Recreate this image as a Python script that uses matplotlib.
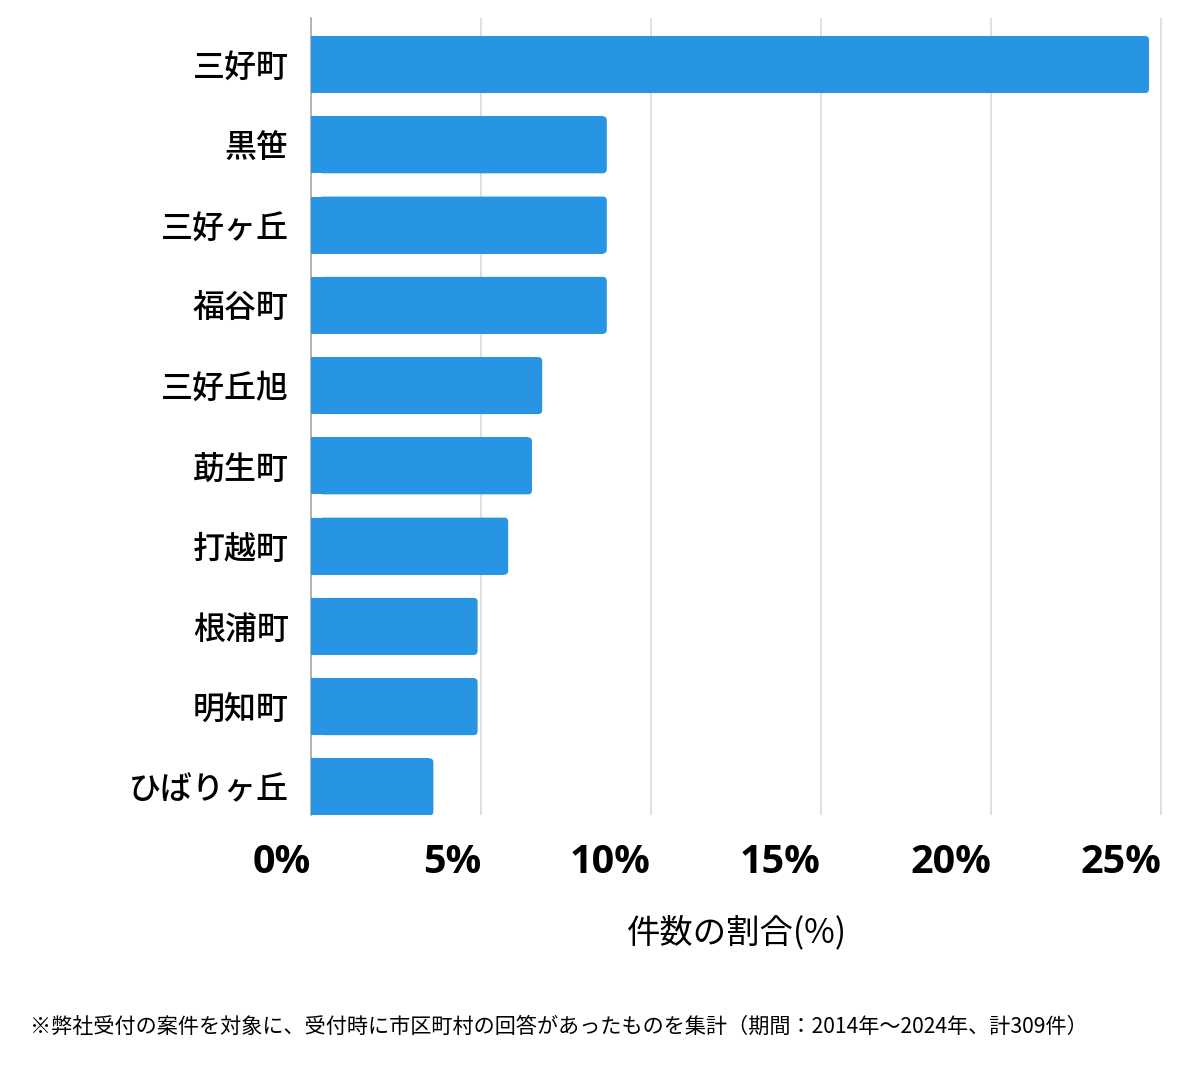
import matplotlib
matplotlib.use("Agg")
import matplotlib.pyplot as plt
from matplotlib.patches import FancyBboxPatch

plt.rcParams['font.family'] = ['Noto Sans CJK JP', 'DejaVu Sans']

categories = ["三好町", "黒笹", "三好ヶ丘", "福谷町", "三好丘旭", "莇生町", "打越町", "根浦町", "明知町", "ひばりヶ丘"]
values = [24.65, 8.7, 8.7, 8.7, 6.8, 6.5, 5.8, 4.9, 4.9, 3.6]
xticks = [0, 5, 10, 15, 20, 25]
xtick_labels = ["0%", "5%", "10%", "15%", "20%", "25%"]
xlabel = "件数の割合(%)"
footnote = "※弊社受付の案件を対象に、受付時に市区町村の回答があったものを集計（期間：2014年～2024年、計309件）"

bar_color = "#2794e4"

fig = plt.figure(figsize=(12, 10.69), dpi=100)
ax = fig.add_axes([311/1200, 254/1069, 852/1200, 797/1069])

ypos = list(range(len(categories)))
bar_h = 0.71
r_px = 4
px_x = 25.0 / 852
px_y = 1.0 / 80.3
r = r_px * px_x
bars = ax.barh(ypos, [v - r for v in values], height=bar_h, color=bar_color, zorder=3)
for b, v in zip(bars, values):
    x0 = b.get_x()
    y0 = b.get_y()
    patch = FancyBboxPatch((x0 + 2 * r, y0), v - 2 * r, bar_h,
                           boxstyle=f"round,pad=0,rounding_size={r}",
                           mutation_aspect=px_y / px_x,
                           facecolor=bar_color, edgecolor='none', zorder=3)
    ax.add_patch(patch)

ax.set_xlim(0, 25.06)
ax.set_ylim(9.35, -0.58)
ax.set_yticks(ypos)
ax.set_yticklabels(categories, fontsize=23, fontweight='medium')
ax.set_xticks(xticks)
ax.set_xticklabels(xtick_labels, fontsize=28.5, fontweight='bold', ha='right',
                   family=['Open Sans', 'Noto Sans CJK JP'])
ax.tick_params(axis='y', length=0, pad=16)
ax.tick_params(axis='x', length=0, pad=20)
ax.grid(axis='x', color='#d9d9d9', linewidth=1.2, zorder=0)
for s in ['top', 'right', 'bottom']:
    ax.spines[s].set_visible(False)
ax.spines['left'].set_color('#aaaaaa')
ax.spines['left'].set_linewidth(1.2)
ax.set_xlabel(xlabel, fontsize=24, labelpad=24)

fig.text(30/1200, 1 - 1027/1069, footnote, fontsize=15.2, ha='left', va='center')

fig.savefig("out.png", dpi=100)
